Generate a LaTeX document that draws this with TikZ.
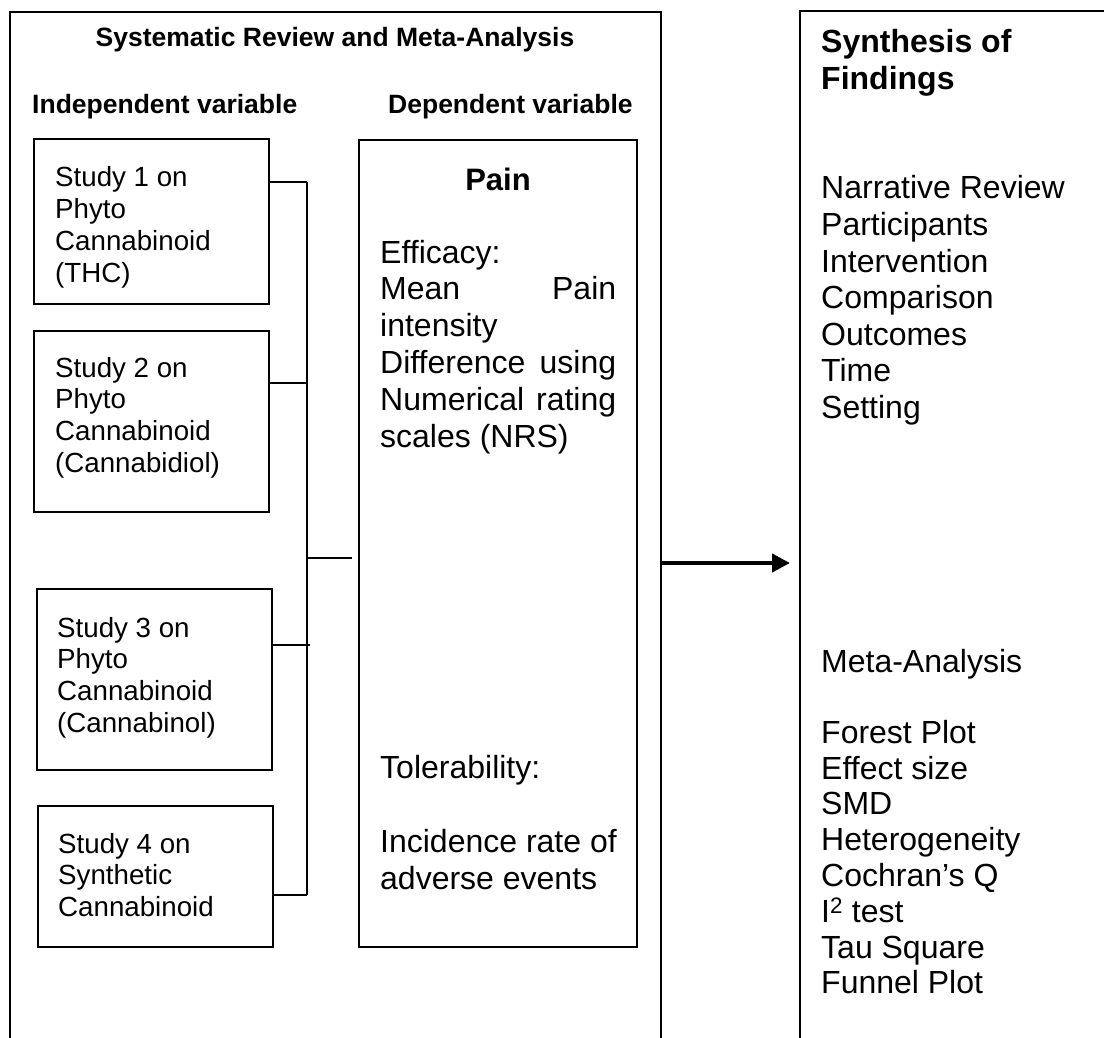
\documentclass[tikz,border=0pt]{standalone}
\usepackage{fontspec}
\setmainfont{Liberation Sans}
\usetikzlibrary{arrows.meta}
\begin{document}
\begin{tikzpicture}[x=1pt,y=-1pt,
  frame/.style={line width=1.6pt},
  sbox/.style={draw, line width=1.6pt, rectangle, inner sep=0pt},
  link/.style={line width=1.6pt},
  stext/.style={anchor=base west, inner sep=0pt, text width=220pt, align=flush left, font=\fontsize{27.7}{31.7}\selectfont},
  btext/.style={anchor=base west, inner sep=0pt, text width=275pt, align=flush left, font=\fontsize{32}{36.6}\selectfont},
  head/.style={anchor=base, inner sep=0pt, font=\bfseries\fontsize{26.5}{30}\selectfont},
  bigarrow/.style={line width=4.2pt, -{Triangle[length=18pt,width=18pt]}},
]
\useasboundingbox (0,0) rectangle (1104,1038);

% outer frames (open at the bottom)
\draw[frame] (10,1038) -- (10,12) -- (661,12) -- (661,1038);
\draw[frame] (800,1038) -- (800,11) -- (1104,11);

% headings
\node[head] (title) at (335,46.5) {Systematic Review and Meta-Analysis};
\node[head, anchor=base west] (iv) at (32,114) {Independent variable};
\node[head, anchor=base west] (dv) at (388,114) {Dependent variable};

% study boxes
\node[sbox, minimum width=235pt, minimum height=165pt] (s1) at (151.5,221.5) {};
\node[sbox, minimum width=235pt, minimum height=181pt] (s2) at (151.5,421.5) {};
\node[sbox, minimum width=235pt, minimum height=181pt] (s3) at (154.5,679.5) {};
\node[sbox, minimum width=235pt, minimum height=141pt] (s4) at (155.5,876.5) {};

\node[stext] (t1) at (55,187) {Study 1 on\\Phyto\\Cannabinoid\\(THC)};
\node[stext] (t2) at (55,377) {Study 2 on\\Phyto\\Cannabinoid\\(Cannabidiol)};
\node[stext] (t3) at (57,637) {Study 3 on\\Phyto\\Cannabinoid\\(Cannabinol)};
\node[stext] (t4) at (58,853) {Study 4 on\\Synthetic\\Cannabinoid};

% pain box
\node[sbox, minimum width=278pt, minimum height=807pt] (pain) at (498,543.5) {};
\node[anchor=base, inner sep=0pt, font=\bfseries\fontsize{31}{36}\selectfont] (paint) at (498,190) {Pain};
\node[btext, text width=236pt, font=\fontsize{32}{36.8}\selectfont] (eff) at (380,263)
  {Efficacy:\\Mean\hfill Pain\\intensity\\Difference\hfill using\\Numerical\hfill rating\\scales (NRS)};
\node[btext, text width=250pt, font=\fontsize{32}{36.8}\selectfont] (tol) at (380,778)
  {Tolerability:\\[38pt]Incidence rate of\\adverse events};

% bus connectors
\coordinate (bt) at (307,182);
\coordinate (j2) at (307,383);
\coordinate (jp) at (307,558);
\coordinate (j3) at (307,645);
\coordinate (bb) at (307,895);
\draw[link] (bt) -- (bb);
\draw[link] (s1.east |- bt) -- (bt);
\draw[link] (s2.east |- j2) -- (j2);
\draw[link] (s3.east |- j3) -- ([xshift=3pt]j3);
\draw[link] (s4.east |- bb) -- (bb);
\draw[link] (jp) -- ([xshift=-6pt]pain.west |- jp);

% synthesis column
\node[btext, font=\bfseries\fontsize{32}{37}\selectfont] (syn) at (821,52.5) {Synthesis of\\Findings};
\node[btext] (nar) at (821,199)
  {Narrative Review\\Participants\\Intervention\\Comparison\\Outcomes\\Time\\Setting};
\node[btext, font=\fontsize{32}{35.8}\selectfont] (meta) at (821,672)
  {Meta-Analysis\\[35.5pt]Forest Plot\\Effect size\\SMD\\Heterogeneity\\Cochran’s Q\\I\textsuperscript{2} test\\Tau Square\\Funnel Plot};

% arrow
\coordinate (a1) at (661,563);
\coordinate (a2) at (790,563);
\draw[bigarrow] (a1) -- (a2);
\end{tikzpicture}
\end{document}
